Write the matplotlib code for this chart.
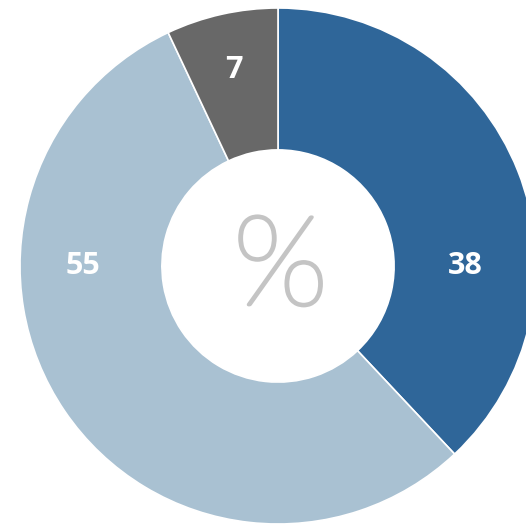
import matplotlib
matplotlib.use("Agg")
import matplotlib.pyplot as plt
import matplotlib.patheffects as pe
import numpy as np

labels = ["38", "55", "7"]
values = [38, 55, 7]
colors = ["#2f6699", "#a9c1d2", "#686868"]
# label placement (angle in degrees, radius fraction) chosen to mimic the original
label_angles = [0, 180, 102.6]
label_radii = [0.725, 0.755, 0.78]

fig = plt.figure(figsize=(5.26, 5.24), dpi=100)
ax = fig.add_axes([0, 0, 1, 1])
ax.pie(values, colors=colors, startangle=90, counterclock=False, radius=1.0,
       wedgeprops=dict(width=0.55, edgecolor="white", linewidth=1.2))

for lab, ang, r in zip(labels, label_angles, label_radii):
    a = np.deg2rad(ang)
    ax.text(r * np.cos(a), r * np.sin(a), lab, ha="center", va="center",
            color="white", fontsize=22, fontweight="bold",
            family=["Open Sans", "DejaVu Sans"])

pc = "#c4c4c4"
ax.text(0.01, -0.02, "%", ha="center", va="center", color=pc,
        fontsize=90, fontweight="light", family=["Lato", "DejaVu Sans"],
        path_effects=[pe.Stroke(linewidth=2.5, foreground=pc), pe.Normal()])

cx_px, cy_px, R_px = 278, 266, 258
ax.set_xlim(-cx_px / R_px, (526 - cx_px) / R_px)
ax.set_ylim(-(524 - cy_px) / R_px, cy_px / R_px)
ax.set_aspect("auto")
ax.axis("off")
fig.savefig("out.png", dpi=100, facecolor="white")
